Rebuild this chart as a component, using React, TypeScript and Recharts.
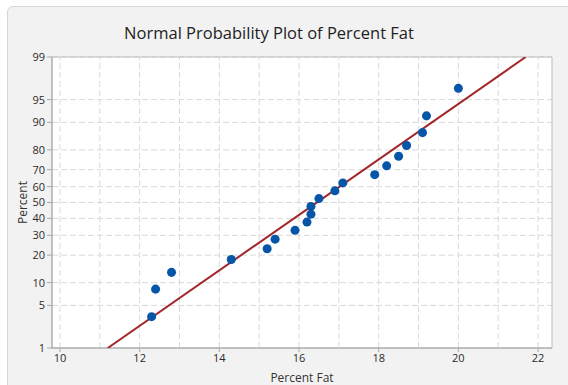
import {
	CartesianGrid,
	ReferenceArea,
	ReferenceLine,
	Scatter,
	ScatterChart,
	XAxis,
	YAxis,
	ZAxis,
} from 'recharts'

// observed percent fat, sorted
const fatValues = [
	12.3, 12.4, 12.8, 14.3, 15.2, 15.4, 15.9, 16.2, 16.3, 16.3, 16.5, 16.9, 17.1, 17.9, 18.2, 18.5, 18.7, 19.1,
	19.2, 20.0,
]
// plotted cumulative percent for each observation
const percentValues = [
	3.4, 8.3, 13.2, 18.1, 23.0, 27.9, 32.8, 37.7, 42.6, 47.5, 52.5, 57.4, 62.3, 67.2, 72.1, 77.0, 81.9, 86.8, 91.7,
	96.6,
]
// fitted normal line end points
const fitFat = [11.2, 21.69]
const fitPercent = [1, 99]

const xTicks = [10, 12, 14, 16, 18, 20, 22]
const xGrid = [10, 11, 12, 13, 14, 15, 16, 17, 18, 19, 20, 21, 22]
const yTickPercents = [1, 5, 10, 20, 30, 40, 50, 60, 70, 80, 90, 95, 99]

const FONT = '"Open Sans", "Noto Sans", sans-serif'

// inverse of the standard normal cdf (Acklam)
function probit(p: number) {
	const a = [-39.69683028665376, 220.9460984245205, -275.9285104469687, 138.357751867269, -30.66479806614716, 2.506628277459239]
	const b = [-54.47609879822406, 161.5858368580409, -155.6989798598866, 66.80131188771972, -13.28068155288572]
	const c = [-0.007784894002430293, -0.3223964580411365, -2.400758277161838, -2.549732539343734, 4.374664141464968, 2.938163982698783]
	const d = [0.007784695709041462, 0.3224671290700398, 2.445134137142996, 3.754408661907416]
	const pLow = 0.02425
	if (p < pLow) {
		const q = Math.sqrt(-2 * Math.log(p))
		return (((((c[0] * q + c[1]) * q + c[2]) * q + c[3]) * q + c[4]) * q + c[5]) / ((((d[0] * q + d[1]) * q + d[2]) * q + d[3]) * q + 1)
	}
	if (p > 1 - pLow) {
		const q = Math.sqrt(-2 * Math.log(1 - p))
		return -(((((c[0] * q + c[1]) * q + c[2]) * q + c[3]) * q + c[4]) * q + c[5]) / ((((d[0] * q + d[1]) * q + d[2]) * q + d[3]) * q + 1)
	}
	const q = p - 0.5
	const r = q * q
	return ((((((a[0] * r + a[1]) * r + a[2]) * r + a[3]) * r + a[4]) * r + a[5]) * q) / (((((b[0] * r + b[1]) * r + b[2]) * r + b[3]) * r + b[4]) * r + 1)
}

const points = fatValues.map((fat, i) => ({ fat, z: probit(percentValues[i] / 100) }))
const fitLine = fitFat.map((fat, i) => ({ fat, z: probit(fitPercent[i] / 100) }))
const yTicks = yTickPercents.map((p) => probit(p / 100))
const zMin = yTicks[0]
const zMax = yTicks[yTicks.length - 1]

function percentLabel(v: number) {
	let best = 0
	yTicks.forEach((t, i) => {
		if (Math.abs(t - v) < Math.abs(yTicks[best] - v)) best = i
	})
	return String(yTickPercents[best])
}

const tickStyle = { fontSize: 11, fill: '#2a2a2a', fontFamily: FONT }

export default function App() {
	return (
		<div style={{ position: 'absolute', left: 0, top: 0, width: 568, height: 385, overflow: 'hidden', background: '#fff' }}>
			<div
				style={{
					position: 'absolute',
					left: 7,
					top: 6,
					width: 600,
					height: 400,
					border: '1px solid #d6d6d6',
					borderRadius: 6,
					background: '#f2f2f2',
				}}
			/>
			<div
				style={{
					position: 'absolute',
					left: 0,
					top: 21,
					width: 538,
					textAlign: 'center',
					fontFamily: FONT,
					fontSize: 16.5,
					color: '#222',
				}}
			>
				Normal Probability Plot of Percent Fat
			</div>
			<div style={{ position: 'absolute', left: 0, top: 0 }}>
				<ScatterChart width={568} height={385} margin={{ top: 57, right: 16, bottom: 0, left: 0 }}>
					<CartesianGrid vertical={false} stroke="#d9d9d9" strokeDasharray="6 3" fill="#fff" />
					{xGrid.map((x) => (
						<ReferenceLine key={x} x={x} stroke="#d9d9d9" strokeDasharray="6 3" />
					))}
					<ReferenceArea x1={9.8} x2={22.35} y1={zMin} y2={zMax} fill="none" stroke="#bcbcbc" strokeOpacity={1} />
					<XAxis
						type="number"
						dataKey="fat"
						domain={[9.8, 22.35]}
						allowDataOverflow
						ticks={xTicks}
						interval={0}
						tick={tickStyle}
						tickSize={4}
						height={37}
						stroke="#a8a8a8"
						label={{ value: 'Percent Fat', position: 'insideBottom', offset: 3, style: { fontSize: 12, fill: '#333', fontFamily: FONT } }}
					/>
					<YAxis
						type="number"
						dataKey="z"
						domain={[zMin, zMax]}
						allowDataOverflow
						ticks={yTicks}
						interval={0}
						tickFormatter={percentLabel}
						tick={tickStyle}
						tickSize={5}
						width={52}
						stroke="#a8a8a8"
						label={{ value: 'Percent', angle: -90, position: 'center', dx: -3, style: { fontSize: 12, fill: '#333', fontFamily: FONT } }}
					/>
					<ZAxis range={[60, 60]} />
					<Scatter data={fitLine} line={{ stroke: '#a3262a', strokeWidth: 2 }} shape={() => null} isAnimationActive={false} />
					<Scatter data={points} fill="#0656a8" isAnimationActive={false} />
				</ScatterChart>
			</div>
		</div>
	)
}
